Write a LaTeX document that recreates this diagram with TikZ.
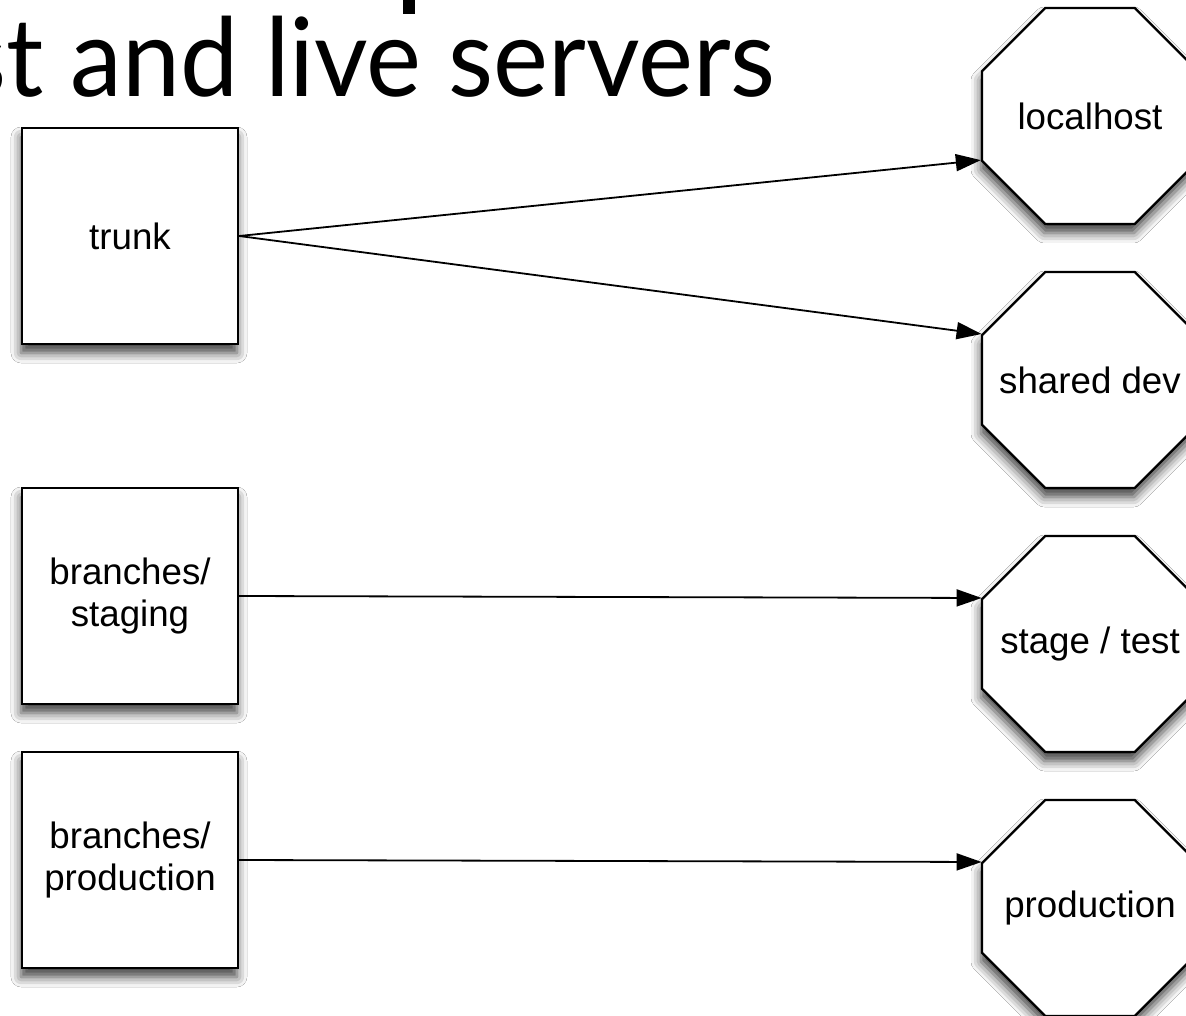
\documentclass[tikz,border=0pt]{standalone}
\usepackage{fontspec}
\setmainfont{Liberation Sans}
\newfontfamily\titlefont{Lato}
\usetikzlibrary{shapes.geometric,arrows.meta,shadows.blur}
\tikzset{
  lbl/.style={font=\fontsize{36.7}{42}\selectfont, align=center},
  shad/.style={blur shadow={shadow xshift=-1pt, shadow yshift=-9pt, shadow blur radius=10pt, shadow opacity=75}},
  repobox/.style={lbl, draw, line width=2.4pt, fill=white, minimum width=216pt, minimum height=216pt, inner sep=0pt, shad},
  server/.style={lbl, draw, line width=2.4pt, fill=white, regular polygon, regular polygon sides=8, minimum size=233.8pt, inner sep=0pt, shad},
  arr/.style={line width=1.8pt, -{Triangle[length=25pt,width=17pt]}}
}
\newcommand{\srvtext}[1]{\makebox[0pt]{#1}}
\begin{document}
\begin{tikzpicture}[x=1pt,y=-1pt]
\useasboundingbox (0,0) rectangle (1186,1016);
\clip (0,0) rectangle (1186,1016);
\fill[white] (0,0) rectangle (1186,1016);
% fragment of the title line above
\fill[black] (403,0) rectangle (415,14);
\node[anchor=base east, inner sep=0pt, font=\titlefont\fontsize{104}{110}\selectfont] (title) at (776,97) {\scalebox{1}[1.05]{st and live servers}};

\node[repobox] (trunk) at (130,236) {trunk};
\node[repobox] (staging) at (130,596) {branches/\\staging};
\node[repobox] (prodb) at (130,860) {branches/\\production};

\node[server] (local) at (1090,116) {\srvtext{localhost}};
\node[server] (dev) at (1090,380) {\srvtext{shared dev}};
\node[server] (stage) at (1090,644) {\srvtext{stage / test}};
\node[server] (prod) at (1090,908) {\srvtext{production}};

\draw[arr] (trunk.east) -- (local.202.5);
\draw[arr] (trunk.east) -- (dev.157.5);
\draw[arr] (staging.east) -- (stage.157.5);
\draw[arr] (prodb.east) -- (prod.157.5);
\end{tikzpicture}
\end{document}
